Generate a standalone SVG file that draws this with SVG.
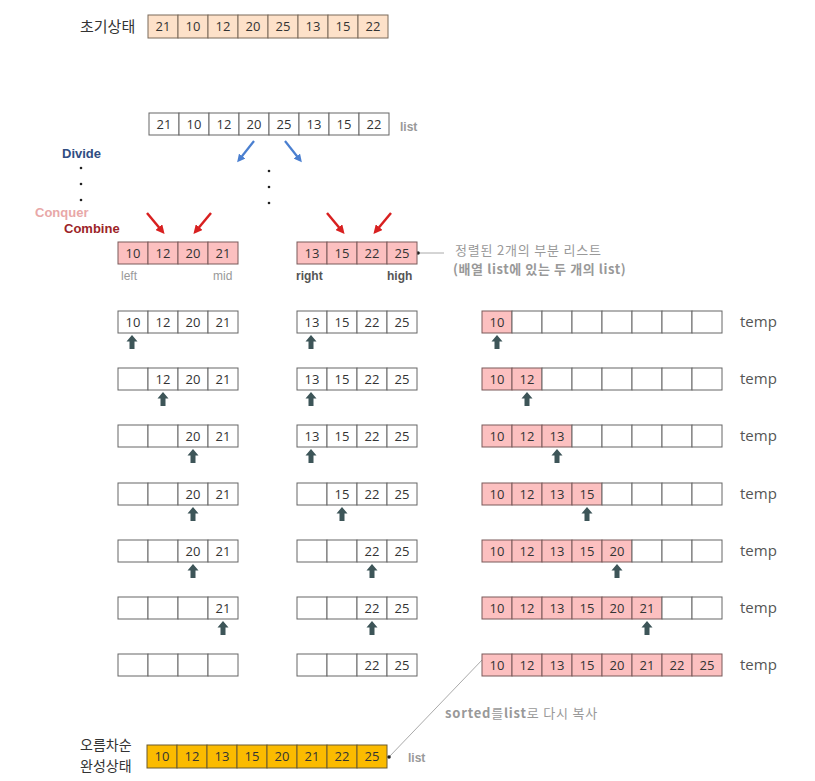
<svg xmlns="http://www.w3.org/2000/svg" width="815" height="781" viewBox="0 0 815 781">
<style>
.w{fill:#fff;stroke:#666;stroke-width:1}
.p{fill:#fcc0c0;stroke:#7a5a5a;stroke-width:1}
.o{fill:#fde1c9;stroke:#7a6a5a;stroke-width:1}
.y{fill:#fbbb00;stroke:#6a5a30;stroke-width:1}
.n{font-family:"Open Sans","Noto Sans",sans-serif;font-size:13px;fill:#333;text-anchor:middle}
.k{font-family:"Noto Sans CJK KR",sans-serif;font-size:14px;fill:#333}
.kg{font-family:"Noto Sans CJK KR",sans-serif;font-size:13px;fill:#999;letter-spacing:0.8px}
.g{font-family:"Liberation Sans",Arial,sans-serif;font-size:12px;fill:#999}
.gb{font-family:"Liberation Sans",Arial,sans-serif;font-size:12px;fill:#999;font-weight:bold}
.t{font-family:"Open Sans","Noto Sans",sans-serif;font-size:15px;fill:#555}
.ar{fill:#3d5558}
</style>
<defs>
<path id="up" d="M0,0 L5.5,6.5 L2.5,6.5 L2.5,14 L-2.5,14 L-2.5,6.5 L-5.5,6.5 Z" class="ar"/>
<marker id="mb" markerWidth="8" markerHeight="8" refX="5" refY="4" orient="auto" markerUnits="userSpaceOnUse"><path d="M0,0 L8,4 L0,8 Z" fill="#4a7fd0"/></marker>
<marker id="mr" markerWidth="9" markerHeight="9" refX="5" refY="4.5" orient="auto" markerUnits="userSpaceOnUse"><path d="M0,0 L9,4.5 L0,9 Z" fill="#d82020"/></marker>
<marker id="dot" markerWidth="4" markerHeight="4" refX="2" refY="2" markerUnits="userSpaceOnUse"><circle cx="2" cy="2" r="1.8" fill="#222"/></marker>
</defs>

<g id="initial">
<text class="k" x="80" y="32" style="font-size:15px">초기상태</text>
<rect class="o" x="148" y="15" width="30" height="23"/><rect class="o" x="178" y="15" width="30" height="23"/><rect class="o" x="208" y="15" width="30" height="23"/><rect class="o" x="238" y="15" width="30" height="23"/><rect class="o" x="268" y="15" width="30" height="23"/><rect class="o" x="298" y="15" width="30" height="23"/><rect class="o" x="328" y="15" width="30" height="23"/><rect class="o" x="358" y="15" width="30" height="23"/>
<text class="n" x="163" y="31">21</text><text class="n" x="193" y="31">10</text><text class="n" x="223" y="31">12</text><text class="n" x="253" y="31">20</text><text class="n" x="283" y="31">25</text><text class="n" x="313" y="31">13</text><text class="n" x="343" y="31">15</text><text class="n" x="373" y="31">22</text>
</g>

<g id="list">
<rect class="w" x="149" y="113" width="30" height="22"/><rect class="w" x="179" y="113" width="30" height="22"/><rect class="w" x="209" y="113" width="30" height="22"/><rect class="w" x="239" y="113" width="30" height="22"/><rect class="w" x="269" y="113" width="30" height="22"/><rect class="w" x="299" y="113" width="30" height="22"/><rect class="w" x="329" y="113" width="30" height="22"/><rect class="w" x="359" y="113" width="30" height="22"/>
<text class="n" x="164" y="129">21</text><text class="n" x="194" y="129">10</text><text class="n" x="224" y="129">12</text><text class="n" x="254" y="129">20</text><text class="n" x="284" y="129">25</text><text class="n" x="314" y="129">13</text><text class="n" x="344" y="129">15</text><text class="n" x="374" y="129">22</text>
<text class="gb" x="400" y="131">list</text>
</g>

<g id="labels">
<text x="62" y="158" font-family="Liberation Sans,Arial,sans-serif" font-size="13" font-weight="bold" fill="#2f4d82">Divide</text>
<text x="35" y="217" font-family="Liberation Sans,Arial,sans-serif" font-size="13" font-weight="bold" fill="#e8a8a8">Conquer</text>
<text x="64" y="233" font-family="Liberation Sans,Arial,sans-serif" font-size="13" font-weight="bold" fill="#9c2428">Combine</text>
<circle cx="81" cy="168" r="1.3" fill="#222"/><circle cx="81" cy="184" r="1.3" fill="#222"/><circle cx="81" cy="200" r="1.3" fill="#222"/>
<circle cx="269" cy="171" r="1.3" fill="#222"/><circle cx="269" cy="187" r="1.3" fill="#222"/><circle cx="269" cy="203" r="1.3" fill="#222"/>
</g>

<g id="connectors" fill="none">
<line x1="254" y1="141" x2="239" y2="160" stroke="#4a7fd0" stroke-width="2.2" marker-end="url(#mb)"/>
<line x1="285" y1="141" x2="300" y2="160" stroke="#4a7fd0" stroke-width="2.2" marker-end="url(#mb)"/>
<line x1="147" y1="213" x2="162" y2="231" stroke="#d82020" stroke-width="2.5" marker-end="url(#mr)"/>
<line x1="211" y1="213" x2="196" y2="231" stroke="#d82020" stroke-width="2.5" marker-end="url(#mr)"/>
<line x1="327" y1="213" x2="342" y2="231" stroke="#d82020" stroke-width="2.5" marker-end="url(#mr)"/>
<line x1="391" y1="213" x2="376" y2="231" stroke="#d82020" stroke-width="2.5" marker-end="url(#mr)"/>
<line x1="418" y1="253" x2="444" y2="253" stroke="#aaa" stroke-width="1" marker-start="url(#dot)"/>
<line x1="389" y1="757" x2="483" y2="659" stroke="#aaa" stroke-width="1" marker-start="url(#dot)"/>
</g>

<g id="merged">
<rect class="p" x="118" y="242" width="30" height="22"/><rect class="p" x="148" y="242" width="30" height="22"/><rect class="p" x="178" y="242" width="30" height="22"/><rect class="p" x="208" y="242" width="30" height="22"/>
<text class="n" x="133" y="258">10</text><text class="n" x="163" y="258">12</text><text class="n" x="193" y="258">20</text><text class="n" x="223" y="258">21</text>
<rect class="p" x="297" y="242" width="30" height="22"/><rect class="p" x="327" y="242" width="30" height="22"/><rect class="p" x="357" y="242" width="30" height="22"/><rect class="p" x="387" y="242" width="30" height="22"/>
<text class="n" x="312" y="258">13</text><text class="n" x="342" y="258">15</text><text class="n" x="372" y="258">22</text><text class="n" x="402" y="258">25</text>
<text class="g" x="121" y="280">left</text><text class="g" x="213" y="280">mid</text>
<text class="gb" x="296" y="280" style="fill:#555">right</text><text class="gb" x="387" y="280" style="fill:#555">high</text>
<text class="kg" x="455" y="255">정렬된 2개의 부분 리스트</text>
<text class="kg" x="453" y="274" style="font-weight:bold;letter-spacing:0.6px">(배열 list에 있는 두 개의 list)</text>
</g>

<g id="row1">
<rect class="w" x="118" y="311" width="30" height="22"/><rect class="w" x="148" y="311" width="30" height="22"/><rect class="w" x="178" y="311" width="30" height="22"/><rect class="w" x="208" y="311" width="30" height="22"/>
<text class="n" x="133" y="327">10</text><text class="n" x="163" y="327">12</text><text class="n" x="193" y="327">20</text><text class="n" x="223" y="327">21</text>
<rect class="w" x="297" y="311" width="30" height="22"/><rect class="w" x="327" y="311" width="30" height="22"/><rect class="w" x="357" y="311" width="30" height="22"/><rect class="w" x="387" y="311" width="30" height="22"/>
<text class="n" x="312" y="327">13</text><text class="n" x="342" y="327">15</text><text class="n" x="372" y="327">22</text><text class="n" x="402" y="327">25</text>
<rect class="p" x="482" y="311" width="30" height="22"/><rect class="w" x="512" y="311" width="30" height="22"/><rect class="w" x="542" y="311" width="30" height="22"/><rect class="w" x="572" y="311" width="30" height="22"/><rect class="w" x="602" y="311" width="30" height="22"/><rect class="w" x="632" y="311" width="30" height="22"/><rect class="w" x="662" y="311" width="30" height="22"/><rect class="w" x="692" y="311" width="30" height="22"/>
<text class="n" x="497" y="327">10</text>
<text class="t" x="740" y="327">temp</text>
<use href="#up" x="132" y="335"/><use href="#up" x="311" y="335"/><use href="#up" x="497" y="335"/>
</g>

<g id="row2">
<rect class="w" x="118" y="368" width="30" height="22"/><rect class="w" x="148" y="368" width="30" height="22"/><rect class="w" x="178" y="368" width="30" height="22"/><rect class="w" x="208" y="368" width="30" height="22"/>
<text class="n" x="163" y="384">12</text><text class="n" x="193" y="384">20</text><text class="n" x="223" y="384">21</text>
<rect class="w" x="297" y="368" width="30" height="22"/><rect class="w" x="327" y="368" width="30" height="22"/><rect class="w" x="357" y="368" width="30" height="22"/><rect class="w" x="387" y="368" width="30" height="22"/>
<text class="n" x="312" y="384">13</text><text class="n" x="342" y="384">15</text><text class="n" x="372" y="384">22</text><text class="n" x="402" y="384">25</text>
<rect class="p" x="482" y="368" width="30" height="22"/><rect class="p" x="512" y="368" width="30" height="22"/><rect class="w" x="542" y="368" width="30" height="22"/><rect class="w" x="572" y="368" width="30" height="22"/><rect class="w" x="602" y="368" width="30" height="22"/><rect class="w" x="632" y="368" width="30" height="22"/><rect class="w" x="662" y="368" width="30" height="22"/><rect class="w" x="692" y="368" width="30" height="22"/>
<text class="n" x="497" y="384">10</text><text class="n" x="527" y="384">12</text>
<text class="t" x="740" y="384">temp</text>
<use href="#up" x="163" y="392"/><use href="#up" x="311" y="392"/><use href="#up" x="527" y="392"/>
</g>

<g id="row3">
<rect class="w" x="118" y="425" width="30" height="22"/><rect class="w" x="148" y="425" width="30" height="22"/><rect class="w" x="178" y="425" width="30" height="22"/><rect class="w" x="208" y="425" width="30" height="22"/>
<text class="n" x="193" y="441">20</text><text class="n" x="223" y="441">21</text>
<rect class="w" x="297" y="425" width="30" height="22"/><rect class="w" x="327" y="425" width="30" height="22"/><rect class="w" x="357" y="425" width="30" height="22"/><rect class="w" x="387" y="425" width="30" height="22"/>
<text class="n" x="312" y="441">13</text><text class="n" x="342" y="441">15</text><text class="n" x="372" y="441">22</text><text class="n" x="402" y="441">25</text>
<rect class="p" x="482" y="425" width="30" height="22"/><rect class="p" x="512" y="425" width="30" height="22"/><rect class="p" x="542" y="425" width="30" height="22"/><rect class="w" x="572" y="425" width="30" height="22"/><rect class="w" x="602" y="425" width="30" height="22"/><rect class="w" x="632" y="425" width="30" height="22"/><rect class="w" x="662" y="425" width="30" height="22"/><rect class="w" x="692" y="425" width="30" height="22"/>
<text class="n" x="497" y="441">10</text><text class="n" x="527" y="441">12</text><text class="n" x="557" y="441">13</text>
<text class="t" x="740" y="441">temp</text>
<use href="#up" x="193" y="449"/><use href="#up" x="311" y="449"/><use href="#up" x="557" y="449"/>
</g>

<g id="row4">
<rect class="w" x="118" y="483" width="30" height="22"/><rect class="w" x="148" y="483" width="30" height="22"/><rect class="w" x="178" y="483" width="30" height="22"/><rect class="w" x="208" y="483" width="30" height="22"/>
<text class="n" x="193" y="499">20</text><text class="n" x="223" y="499">21</text>
<rect class="w" x="297" y="483" width="30" height="22"/><rect class="w" x="327" y="483" width="30" height="22"/><rect class="w" x="357" y="483" width="30" height="22"/><rect class="w" x="387" y="483" width="30" height="22"/>
<text class="n" x="342" y="499">15</text><text class="n" x="372" y="499">22</text><text class="n" x="402" y="499">25</text>
<rect class="p" x="482" y="483" width="30" height="22"/><rect class="p" x="512" y="483" width="30" height="22"/><rect class="p" x="542" y="483" width="30" height="22"/><rect class="p" x="572" y="483" width="30" height="22"/><rect class="w" x="602" y="483" width="30" height="22"/><rect class="w" x="632" y="483" width="30" height="22"/><rect class="w" x="662" y="483" width="30" height="22"/><rect class="w" x="692" y="483" width="30" height="22"/>
<text class="n" x="497" y="499">10</text><text class="n" x="527" y="499">12</text><text class="n" x="557" y="499">13</text><text class="n" x="587" y="499">15</text>
<text class="t" x="740" y="499">temp</text>
<use href="#up" x="193" y="507"/><use href="#up" x="342" y="507"/><use href="#up" x="587" y="507"/>
</g>

<g id="row5">
<rect class="w" x="118" y="540" width="30" height="22"/><rect class="w" x="148" y="540" width="30" height="22"/><rect class="w" x="178" y="540" width="30" height="22"/><rect class="w" x="208" y="540" width="30" height="22"/>
<text class="n" x="193" y="556">20</text><text class="n" x="223" y="556">21</text>
<rect class="w" x="297" y="540" width="30" height="22"/><rect class="w" x="327" y="540" width="30" height="22"/><rect class="w" x="357" y="540" width="30" height="22"/><rect class="w" x="387" y="540" width="30" height="22"/>
<text class="n" x="372" y="556">22</text><text class="n" x="402" y="556">25</text>
<rect class="p" x="482" y="540" width="30" height="22"/><rect class="p" x="512" y="540" width="30" height="22"/><rect class="p" x="542" y="540" width="30" height="22"/><rect class="p" x="572" y="540" width="30" height="22"/><rect class="p" x="602" y="540" width="30" height="22"/><rect class="w" x="632" y="540" width="30" height="22"/><rect class="w" x="662" y="540" width="30" height="22"/><rect class="w" x="692" y="540" width="30" height="22"/>
<text class="n" x="497" y="556">10</text><text class="n" x="527" y="556">12</text><text class="n" x="557" y="556">13</text><text class="n" x="587" y="556">15</text><text class="n" x="617" y="556">20</text>
<text class="t" x="740" y="556">temp</text>
<use href="#up" x="193" y="564"/><use href="#up" x="372" y="564"/><use href="#up" x="617" y="564"/>
</g>

<g id="row6">
<rect class="w" x="118" y="597" width="30" height="22"/><rect class="w" x="148" y="597" width="30" height="22"/><rect class="w" x="178" y="597" width="30" height="22"/><rect class="w" x="208" y="597" width="30" height="22"/>
<text class="n" x="223" y="613">21</text>
<rect class="w" x="297" y="597" width="30" height="22"/><rect class="w" x="327" y="597" width="30" height="22"/><rect class="w" x="357" y="597" width="30" height="22"/><rect class="w" x="387" y="597" width="30" height="22"/>
<text class="n" x="372" y="613">22</text><text class="n" x="402" y="613">25</text>
<rect class="p" x="482" y="597" width="30" height="22"/><rect class="p" x="512" y="597" width="30" height="22"/><rect class="p" x="542" y="597" width="30" height="22"/><rect class="p" x="572" y="597" width="30" height="22"/><rect class="p" x="602" y="597" width="30" height="22"/><rect class="p" x="632" y="597" width="30" height="22"/><rect class="w" x="662" y="597" width="30" height="22"/><rect class="w" x="692" y="597" width="30" height="22"/>
<text class="n" x="497" y="613">10</text><text class="n" x="527" y="613">12</text><text class="n" x="557" y="613">13</text><text class="n" x="587" y="613">15</text><text class="n" x="617" y="613">20</text><text class="n" x="647" y="613">21</text>
<text class="t" x="740" y="613">temp</text>
<use href="#up" x="223" y="621"/><use href="#up" x="372" y="621"/><use href="#up" x="647" y="621"/>
</g>

<g id="row7">
<rect class="w" x="118" y="654" width="30" height="22"/><rect class="w" x="148" y="654" width="30" height="22"/><rect class="w" x="178" y="654" width="30" height="22"/><rect class="w" x="208" y="654" width="30" height="22"/>
<rect class="w" x="297" y="654" width="30" height="22"/><rect class="w" x="327" y="654" width="30" height="22"/><rect class="w" x="357" y="654" width="30" height="22"/><rect class="w" x="387" y="654" width="30" height="22"/>
<text class="n" x="372" y="670">22</text><text class="n" x="402" y="670">25</text>
<rect class="p" x="482" y="654" width="30" height="22"/><rect class="p" x="512" y="654" width="30" height="22"/><rect class="p" x="542" y="654" width="30" height="22"/><rect class="p" x="572" y="654" width="30" height="22"/><rect class="p" x="602" y="654" width="30" height="22"/><rect class="p" x="632" y="654" width="30" height="22"/><rect class="p" x="662" y="654" width="30" height="22"/><rect class="p" x="692" y="654" width="30" height="22"/>
<text class="n" x="497" y="670">10</text><text class="n" x="527" y="670">12</text><text class="n" x="557" y="670">13</text><text class="n" x="587" y="670">15</text><text class="n" x="617" y="670">20</text><text class="n" x="647" y="670">21</text><text class="n" x="677" y="670">22</text><text class="n" x="707" y="670">25</text>
<text class="t" x="740" y="670">temp</text>
</g>

<g id="final">
<text class="k" x="80" y="750">오름차순</text>
<text class="k" x="80" y="771">완성상태</text>
<rect class="y" x="147" y="745" width="30" height="23"/><rect class="y" x="177" y="745" width="30" height="23"/><rect class="y" x="207" y="745" width="30" height="23"/><rect class="y" x="237" y="745" width="30" height="23"/><rect class="y" x="267" y="745" width="30" height="23"/><rect class="y" x="297" y="745" width="30" height="23"/><rect class="y" x="327" y="745" width="30" height="23"/><rect class="y" x="357" y="745" width="30" height="23"/>
<text class="n" x="162" y="761">10</text><text class="n" x="192" y="761">12</text><text class="n" x="222" y="761">13</text><text class="n" x="252" y="761">15</text><text class="n" x="282" y="761">20</text><text class="n" x="312" y="761">21</text><text class="n" x="342" y="761">22</text><text class="n" x="372" y="761">25</text>
<text class="gb" x="408" y="762">list</text>
<text class="kg" x="445" y="718"><tspan font-weight="bold">sorted</tspan>를<tspan font-weight="bold">list</tspan>로 다시 복사</text>
</g>
</svg>
